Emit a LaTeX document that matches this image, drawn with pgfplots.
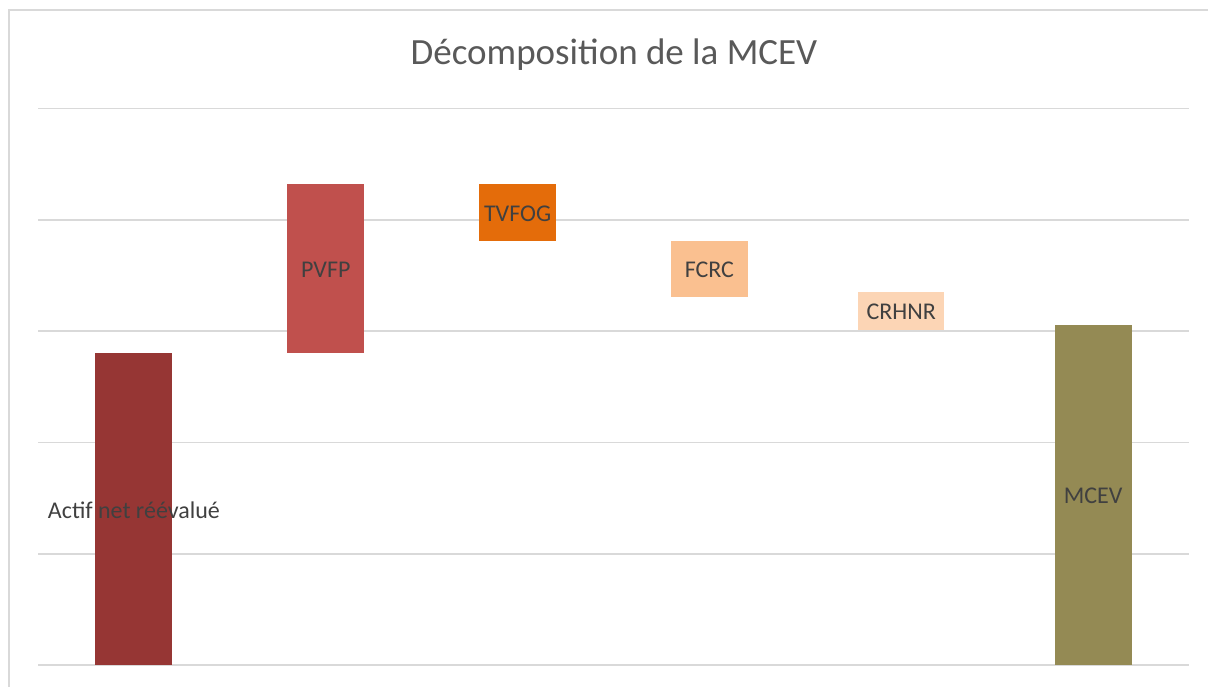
\documentclass[border=0pt]{standalone}
\usepackage{fontspec}
\setmainfont{Carlito}
\usepackage{pgfplots}
\pgfplotsset{compat=1.18}
\definecolor{gridc}{HTML}{D9D9D9}
\definecolor{txt}{HTML}{404040}
\definecolor{ttl}{HTML}{595959}
\definecolor{cA}{HTML}{963634}
\definecolor{cB}{HTML}{C0504D}
\definecolor{cC}{HTML}{E46C0A}
\definecolor{cD}{HTML}{FAC090}
\definecolor{cE}{HTML}{FCD5B5}
\definecolor{cF}{HTML}{948A54}
\begin{document}
\begin{tikzpicture}
\path[use as bounding box] (0,0) rectangle (604pt,343pt);
\draw[gridc, line width=0.8pt] (4.5pt,-2pt) -- (4.5pt,338pt) -- (606pt,338pt);
\begin{axis}[
  at={(19pt,10.5pt)}, anchor=south west,
  scale only axis, width=575.5pt, height=278.25pt,
  xmin=-0.5, xmax=5.5, ymin=0, ymax=5,
  enlargelimits=false, clip=false,
  axis line style={draw=none},
  major tick style={draw=none},
  ytick={0,1,2,3,4,5}, xtick=\empty,
  yticklabels={},
  ymajorgrids, major grid style={gridc, line width=0.8pt},
  ybar stacked, bar width=38.5pt,
]
\addplot[draw=none, fill=none, forget plot] coordinates {(0,0) (1,2.80) (2,3.81) (3,3.31) (4,3.01) (5,0)};
\addplot[draw=none, fill=cA] coordinates {(0,2.80) (1,0) (2,0) (3,0) (4,0) (5,0)};
\addplot[draw=none, fill=cB] coordinates {(0,0) (1,1.52) (2,0) (3,0) (4,0) (5,0)};
\addplot[draw=none, fill=cC] coordinates {(0,0) (1,0) (2,0.51) (3,0) (4,0) (5,0)};
\addplot[draw=none, fill=cD] coordinates {(0,0) (1,0) (2,0) (3,0.50) (4,0) (5,0)};
\addplot[draw=none, fill=cE, bar width=43pt] coordinates {(0,0) (1,0) (2,0) (3,0) (4,0.34) (5,0)};
\addplot[draw=none, fill=cF] coordinates {(0,0) (1,0) (2,0) (3,0) (4,0) (5,3.055)};
\coordinate (l0) at (axis cs:0,1.39);
\coordinate (l1) at (axis cs:1,3.55);
\coordinate (l2) at (axis cs:2,4.055);
\coordinate (l3) at (axis cs:3,3.55);
\coordinate (l4) at (axis cs:4,3.17);
\coordinate (l5) at (axis cs:5,1.52);
\end{axis}
\begin{scope}[every node/.style={font=\fontsize{12pt}{14pt}\selectfont, text=txt}]
\node at (l0) {Actif net réévalué};
\node at (l1) {PVFP};
\node at (l2) {TVFOG};
\node at (l3) {FCRC};
\node at (l4) {CRHNR};
\node at (l5) {MCEV};
\end{scope}
\node[font=\fontsize{18.5pt}{22pt}\selectfont, text=ttl] at (307pt,315.5pt) {Décomposition de la MCEV};
\end{tikzpicture}
\end{document}
